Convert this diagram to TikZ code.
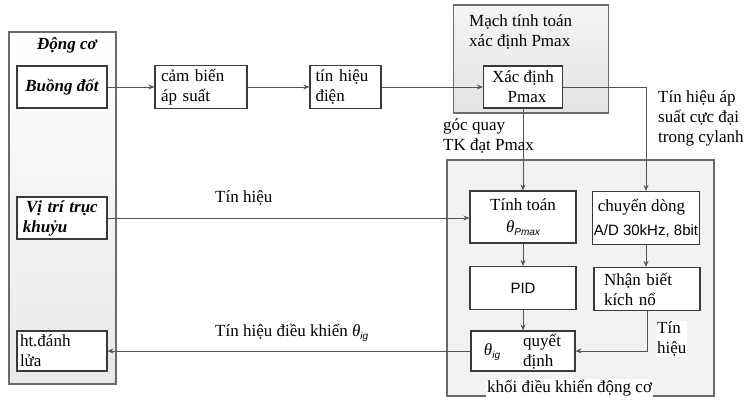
\documentclass[tikz,border=0pt]{standalone}
\usepackage{fontspec}
\setmainfont{Liberation Serif}
\setsansfont{Liberation Sans}
\usetikzlibrary{arrows.meta}
\definecolor{frame}{HTML}{6A6A6A}
\definecolor{edge}{HTML}{3A3A3A}
\definecolor{wire}{HTML}{555555}
\tikzset{
  txt/.style={font=\fontsize{17}{20}\selectfont, inner sep=0pt},
  outerbox/.style={draw=frame, line width=1.6pt, inner sep=0pt},
  blk/.style={draw=edge, line width=1.1pt, fill=white, inner sep=3pt,
    font=\fontsize{17}{20}\selectfont},
  wireline/.style={draw=wire, line width=0.9pt},
  wirearrow/.style={wireline, -{Stealth[length=6pt,width=5pt]}},
}
\newcommand{\thetasub}[1]{{\itshape θ}\raisebox{-0.45ex}{\sffamily\itshape\fontsize{10}{10}\selectfont #1}}
\begin{document}
\begin{tikzpicture}[x=1pt,y=-1pt]
\useasboundingbox (0,0) rectangle (752,401);
\fill[white] (0,0) rectangle (752,401);

% outer frames
\node[outerbox, minimum width=107pt, minimum height=352pt, top color=white, bottom color=black!9] (engine) at (62.5,208) {};
\node[outerbox, minimum width=155pt, minimum height=108pt, top color=black!4, bottom color=black!11] (calc) at (531,59) {};
\node[outerbox, minimum width=267pt, minimum height=236pt, fill=black!5] (ecu) at (580.5,278) {};

\node[txt, font=\fontsize{17}{20}\selectfont\bfseries\itshape] (engineT) at (67,45) {Động cơ};
\node[txt, anchor=west] (calcT) at (469,33) {\begin{tabular}{@{}l@{}}Mạch tính toán\\xác định Pmax\end{tabular}};

% engine blocks
\node[blk, minimum width=90pt, minimum height=42pt, font=\fontsize{17}{20}\selectfont\bfseries\itshape] (chamber) at (62,87) {Buồng đốt};
\node[blk, minimum width=90pt, minimum height=42pt, font=\fontsize{17}{20}\selectfont\bfseries\itshape, text width=80pt, align=left] (crank) at (62,218) {\hspace*{4pt}Vị trí trục\\ \hspace*{1pt}khuỷu};
\node[blk, minimum width=90pt, minimum height=40pt, text width=84pt, align=left, inner sep=2pt] (ignite) at (62,351) {ht.đánh\\lửa};

% signal chain
\node[blk, minimum width=92pt, minimum height=43pt, text width=80pt, align=left] (sensor) at (201,87) {cảm biến\\áp suất};
\node[blk, minimum width=71pt, minimum height=43pt, text width=60pt, align=left] (elec) at (345.5,87) {tín hiệu\\điện};
\node[blk, minimum width=79pt, minimum height=42pt, align=center] (pmax) at (523,87) {Xác định\\\hspace*{8pt}Pmax};

% controller blocks
\node[blk, minimum width=106pt, minimum height=52pt, align=center] (angle) at (523,217) {Tính toán\\[2pt]\thetasub{Pmax}};
\node[blk, minimum width=105pt, minimum height=53pt, align=left, inner sep=1pt] (adc) at (646,218) {\hspace*{4pt}chuyển dòng\\[4pt]{\sffamily\fontsize{15}{17}\selectfont A/D 30kHz, 8bit}};
\node[blk, minimum width=106pt, minimum height=43pt, font=\sffamily\fontsize{15}{17}\selectfont] (pid) at (523,288) {PID};
\node[blk, minimum width=106pt, minimum height=43pt, text width=86pt, align=left] (knock) at (647,289) {Nhận biết\\kích nổ};
\node[blk, minimum width=104pt, minimum height=40pt] (decide) at (523,351) {};
\node[txt] (decideTh) at (492,352) {\thetasub{ig}};
\node[txt, anchor=west, align=left] (decideT) at (523,352) {quyết\\định};

\node[txt, fill=white, inner sep=1pt, anchor=west] (ecuT) at (486,388) {khối điều khiển động cơ};

% connectors
\draw[wirearrow] (chamber.east) -- (sensor.west);
\draw[wirearrow] (sensor.east) -- (elec.west);
\draw[wirearrow] (elec.east) -- (pmax.west);
\draw[wirearrow] (pmax.east) -| (adc.north);
\draw[wirearrow] (pmax.south) -- (angle.north);
\draw[wirearrow] (crank.east) -- (crank.east -| angle.west);
\draw[wirearrow] (angle.south) -- (pid.north);
\draw[wirearrow] (pid.south) -- (decide.north);
\draw[wirearrow] (adc.south) -- (adc.south |- knock.north);
\draw[wirearrow] (knock.south) |- (decide.east);
\draw[wirearrow] (decide.west) -- (decide.west -| ignite.east);

% connector labels
\node[txt, anchor=west] (lblCrank) at (215,198) {Tín hiệu};
\node[txt, anchor=west] (lblCtrl) at (215,333) {Tín hiệu điều khiển \thetasub{ig}};
\node[txt, anchor=west, align=left] (lblAngle) at (443,136) {góc quay\\TK đạt Pmax};
\node[txt, anchor=west, align=left] (lblPeak) at (658,118) {Tín hiệu áp\\suất cực đại\\trong cylanh};
\node[txt, anchor=west, align=left, fill=white, inner sep=1pt] (lblKnock) at (656,339) {Tín\\hiệu};
\end{tikzpicture}
\end{document}
